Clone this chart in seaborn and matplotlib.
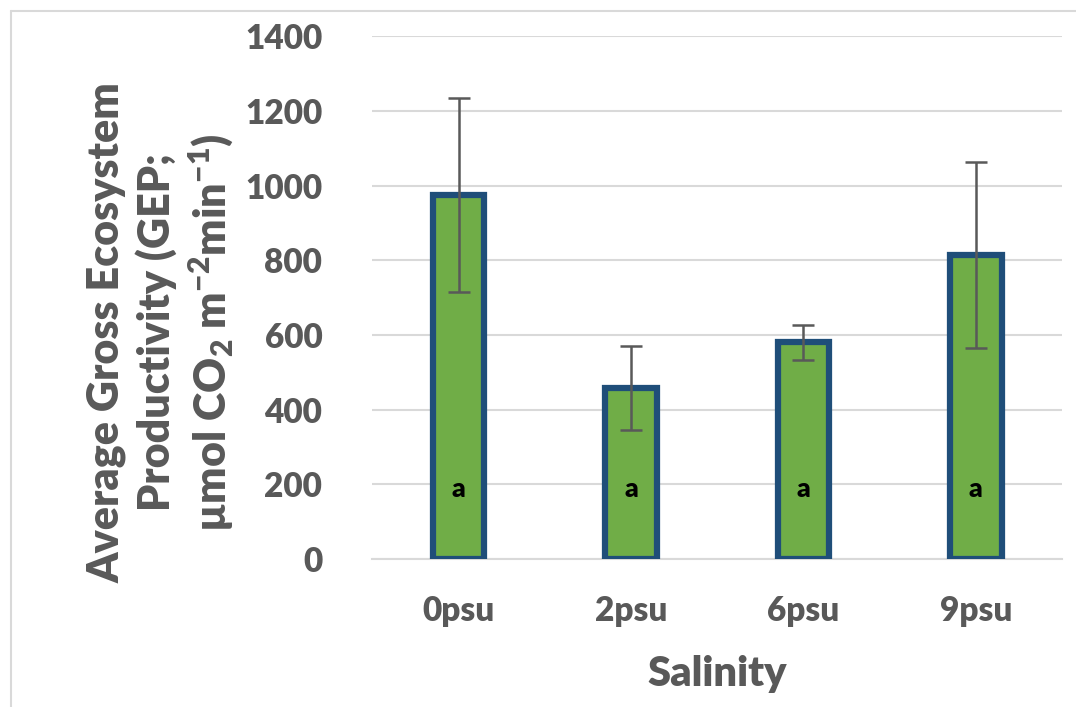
import matplotlib
matplotlib.use("Agg")
import matplotlib.pyplot as plt
from matplotlib.lines import Line2D
import seaborn as sns
import pandas as pd

categories = ["0psu", "2psu", "6psu", "9psu"]
gep_mean = [975, 458, 580, 815]
gep_err = [260, 113, 47, 249]
letters = ["a", "a", "a", "a"]

sns.set_theme(style="white")
plt.rcParams["font.family"] = ["Lato", "DejaVu Sans"]
plt.rcParams["mathtext.fontset"] = "custom"
plt.rcParams["mathtext.rm"] = "Lato:heavy"
plt.rcParams["mathtext.bf"] = "Lato:heavy"
plt.rcParams["mathtext.it"] = "Lato:heavy"

gray = "#595959"
W = "heavy"
df = pd.DataFrame({"Salinity": categories, "GEP": gep_mean})

fig = plt.figure(figsize=(10.76, 7.07), dpi=100)
fig.add_artist(Line2D([11 / 1076, 1.0], [1 - 11 / 707, 1 - 11 / 707],
                      transform=fig.transFigure, color="#D9D9D9", lw=1.5))
fig.add_artist(Line2D([11 / 1076, 11 / 1076], [0.0, 1 - 11 / 707],
                      transform=fig.transFigure, color="#D9D9D9", lw=1.5))
ax = fig.add_axes([0.346, 0.209, 0.641, 0.740])

sns.barplot(data=df, x="Salinity", y="GEP", ax=ax, color="#70AD47",
            width=0.3, edgecolor="#1F4E79", linewidth=4.5, saturation=1, zorder=3)
ax.errorbar(range(len(categories)), gep_mean, yerr=gep_err, fmt="none",
            ecolor=gray, elinewidth=1.8, capsize=8, capthick=1.8, zorder=4)
for i, t in enumerate(letters):
    ax.text(i, 188, t, ha="center", va="center", fontsize=19, fontweight=W,
            color="black", zorder=5)

ax.set_ylim(0, 1400)
ax.set_xlim(-0.5, 3.5)
ax.set_yticks(range(0, 1401, 200))
ax.yaxis.grid(True, color="#D9D9D9", linewidth=1.5, zorder=0)
ax.set_axisbelow(True)
for s in ["left", "right", "top"]:
    ax.spines[s].set_visible(False)
ax.spines["bottom"].set_color("#D9D9D9")
ax.spines["bottom"].set_linewidth(1.5)
ax.tick_params(axis="y", length=0, pad=36, labelsize=24, labelcolor=gray)
ax.tick_params(axis="x", length=0, pad=26, labelsize=24, labelcolor=gray)
for lab in ax.get_xticklabels() + ax.get_yticklabels():
    lab.set_fontweight(W)

ax.set_xlabel("Salinity", fontsize=30, fontweight=W, color=gray, labelpad=20)
ax.set_ylabel("")
fig.text(0.150, 0.530,
         "Average Gross Ecosystem\nProductivity (GEP;\nµmol CO$_2$ m$^{-2}$min$^{-1}$)",
         rotation=90, ha="center", va="center", multialignment="center",
         fontsize=31, fontweight=W, color=gray, linespacing=1.25)

fig.savefig("out.png", dpi=100)
